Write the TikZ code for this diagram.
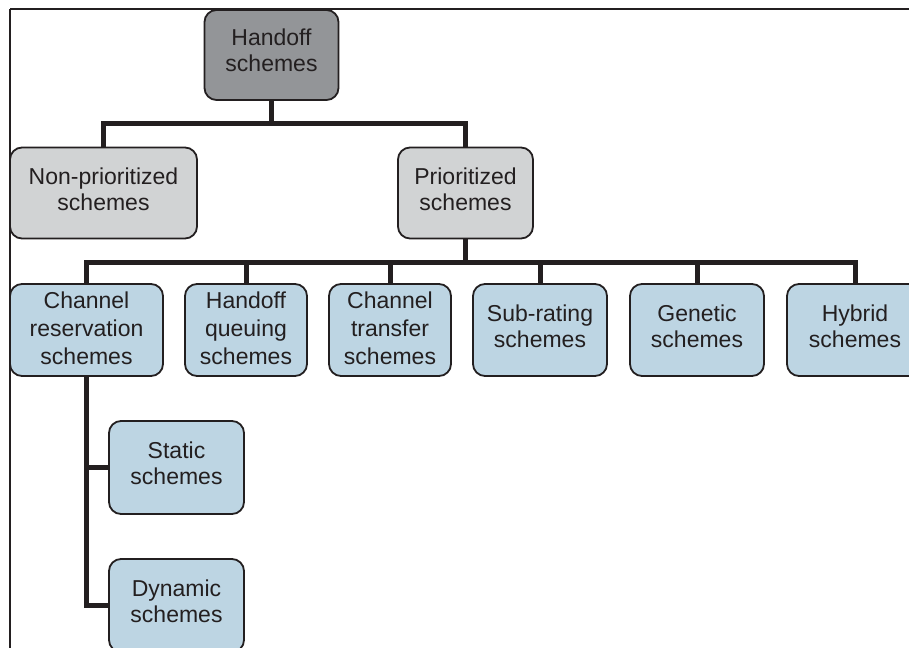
\documentclass[tikz,border=0pt]{standalone}
\usepackage{fontspec}
\setmainfont{Liberation Sans}
\definecolor{inkc}{HTML}{231F20}
\definecolor{darkbox}{HTML}{939598}
\definecolor{lightbox}{HTML}{D1D3D4}
\definecolor{bluebox}{HTML}{BDD5E3}
\begin{document}
\begin{tikzpicture}[x=1pt,y=-1pt,
  box/.style={draw=inkc,line width=1.8pt,rounded corners=12pt,align=center,
    text=inkc,font=\fontsize{23}{26}\selectfont,inner sep=0pt,text depth=8pt},
  three/.style={font=\fontsize{23}{28}\selectfont,text depth=4pt},
  topbox/.style={box,fill=darkbox,text depth=10pt},
  midbox/.style={box,fill=lightbox},
  leafbox/.style={box,fill=bluebox},
  conn/.style={draw=inkc,line width=5pt}]
\clip (0,0) rectangle (909,647);
\fill[white] (0,0) rectangle (909,647);
% frame
\draw[inkc,line width=2.5pt] (10,9) -- (912,9);
\draw[inkc,line width=2pt] (10,9) -- (10,650);
% nodes
\node[topbox,minimum width=134pt,minimum height=90pt] (hand) at (271.5,55) {Handoff\\schemes};
\node[midbox,minimum width=187pt,minimum height=91pt] (nonp) at (103.5,193) {Non-prioritized\\schemes};
\node[midbox,minimum width=135pt,minimum height=91pt] (prio) at (465.5,193) {Prioritized\\schemes};
\node[leafbox,three,minimum width=153pt,minimum height=92pt] (cr) at (86.5,330) {Channel\\reservation\\schemes};
\node[leafbox,three,minimum width=122pt,minimum height=92pt] (hq) at (246,330) {Handoff\\queuing\\schemes};
\node[leafbox,three,minimum width=122pt,minimum height=92pt] (ct) at (390,330) {Channel\\transfer\\schemes};
\node[leafbox,minimum width=134pt,minimum height=92pt] (sr) at (540,330) {Sub-rating\\schemes};
\node[leafbox,minimum width=134pt,minimum height=92pt] (gen) at (697,330) {Genetic\\schemes};
\node[leafbox,minimum width=136pt,minimum height=92pt] (hyb) at (855,330) {Hybrid\\schemes};
\node[leafbox,minimum width=135pt,minimum height=93pt] (stat) at (176.5,467.5) {Static\\schemes};
\node[leafbox,minimum width=135pt,minimum height=93pt] (dyn) at (176.5,605.5) {Dynamic\\schemes};
% connectors
\coordinate (b1) at (272,124);
\coordinate (b2) at (465,262);
\draw[conn] (hand.south) -- (hand.south |- b1);
\draw[conn] (nonp.north) |- (b1) -| (prio.north);
\draw[conn] (prio.south) -- (prio.south |- b2);
\draw[conn] (cr.north) |- (b2) -| (hyb.north);
\foreach \n in {hq,ct,sr,gen} \draw[conn] (\n.north) -- (\n.north |- b2);
\draw[conn] (cr.south) |- (dyn.west);
\draw[conn] (cr.south |- stat.west) -- (stat.west);
\end{tikzpicture}
\end{document}
